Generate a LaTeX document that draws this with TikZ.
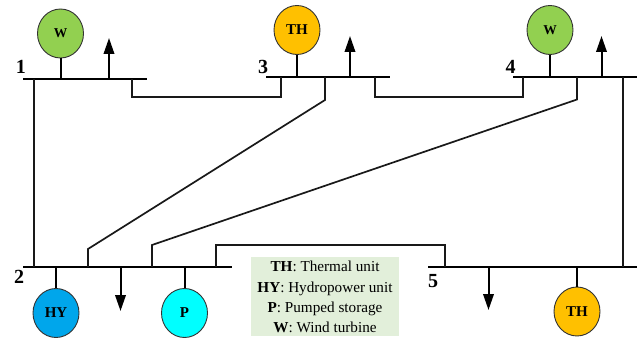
\documentclass[tikz,border=0pt]{standalone}
\usepackage{fontspec}
\setmainfont{Liberation Serif}
\usetikzlibrary{shapes.geometric,arrows.meta}
\tikzset{
  busbar/.style={draw=none,fill=black,inner sep=0pt,minimum height=2.6pt,rectangle},
  gen/.style={draw=black!80,line width=.9pt,ellipse,inner sep=0pt,minimum width=46pt,minimum height=49pt,font=\fontsize{15}{17}\selectfont\bfseries},
  tie/.style={line width=1.7pt,black!90},
  stub/.style={line width=2pt,black},
  load/.style={line width=2pt,black,-{Triangle[length=16pt,width=10.5pt]}},
  busnum/.style={font=\fontsize{20}{22}\selectfont\bfseries,inner sep=0pt},
  legendline/.style={font=\fontsize{15.2}{17}\selectfont,inner sep=0pt,anchor=base},
}
\begin{document}
\begin{tikzpicture}[x=1pt,y=-1pt]
\useasboundingbox (0,0) rectangle (640,339);
% buses
\node[busbar,minimum width=124pt] (b1) at (85,79) {};
\node[busbar,minimum width=124pt] (b3) at (328,77) {};
\node[busbar,minimum width=124pt] (b4) at (575,77) {};
\node[busbar,minimum width=209pt] (b2) at (127.5,267) {};
\node[busbar,minimum width=209pt] (b5) at (532.5,267) {};
% generators
\node[gen,fill={rgb,255:red,146;green,208;blue,80}] (g1) at (60.5,33.5) {\fontsize{13.5}{15}\selectfont W};
\node[gen,fill={rgb,255:red,255;green,192;blue,0}] (g3) at (297,30) {TH};
\node[gen,fill={rgb,255:red,146;green,208;blue,80}] (g4) at (550,30) {\fontsize{13.5}{15}\selectfont W};
\node[gen,fill={rgb,255:red,0;green,166;blue,235}] (g2a) at (56,313) {HY};
\node[gen,fill={rgb,255:red,0;green,255;blue,255}] (g2b) at (184.5,313) {P};
\node[gen,fill={rgb,255:red,255;green,192;blue,0}] (g5) at (577,311.5) {TH};
% generator stubs
\foreach \g/\b in {g1/b1,g3/b3,g4/b4,g2a/b2,g2b/b2,g5/b5}
  \draw[stub] (\g) -- (\g |- \b);
% loads
\coordinate (l1) at (109,38);
\coordinate (l3) at (350,36);
\coordinate (l4) at (601.5,36);
\coordinate (l2) at (120.5,311);
\coordinate (l5) at (488.5,310);
\foreach \l/\b in {l1/b1,l3/b3,l4/b4,l2/b2,l5/b5}
  \draw[load] (\l |- \b) -- (\l);
% ties
\draw[tie] (b1.center -| 132,0) -- (132,97) -- (281,97) -- (b3.center -| 281,0);
\draw[tie] (b3.center -| 375,0) -- (375,97) -- (523,97) -- (b4.center -| 523,0);
\draw[tie] (b3.center -| 325,0) -- (325,100) -- (88,249) -- (b2.center -| 88,0);
\draw[tie] (b4.center -| 577,0) -- (577,99.5) -- (152,245) -- (b2.center -| 152,0);
\draw[tie] (b2.center -| 216,0) -- (216,245) -- (445,245) -- (b5.center -| 445,0);
\draw[tie] (b1.center -| 34,0) -- (b2.center -| 34,0);
\draw[tie] (b4.center -| 623,0) -- (b5.center -| 623,0);
% bus numbers
\node[busnum] (n1) at (21,67) {1};
\node[busnum] (n3) at (263,67) {3};
\node[busnum] (n4) at (510.5,66.5) {4};
\node[busnum] (n2) at (19,277) {2};
\node[busnum] (n5) at (433,281) {5};
% legend
\node[fill={rgb,255:red,226;green,239;blue,218},minimum width=148pt,minimum height=79pt,inner sep=0pt] (leg) at (325,296.5) {};
\node[legendline] (t1) at (325,272) {\textbf{TH}: Thermal unit};
\node[legendline] (t2) at (325,292) {\textbf{HY}: Hydropower unit};
\node[legendline] (t3) at (325,312) {\textbf{P}: Pumped storage};
\node[legendline] (t4) at (325,332) {\textbf{W}: Wind turbine};
\end{tikzpicture}
\end{document}
